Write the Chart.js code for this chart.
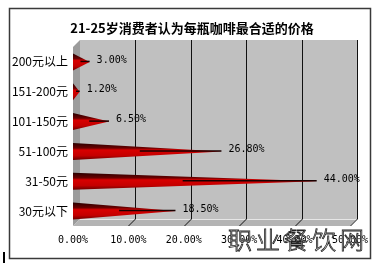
<!DOCTYPE html>
<html>
<head>
<meta charset="utf-8">
<script src="https://cdn.jsdelivr.net/npm/chart.js@4"></script>
<style>
    html, body { margin: 0; padding: 0; background: #fff; }
    #wrap { position: relative; width: 376px; height: 267px; }
</style>
</head>
<body>
<div id="wrap"><canvas id="priceChart" width="376" height="267"></canvas></div>
<script>
// chart data
const chartTitle = '21-25岁消费者认为每瓶咖啡最合适的价格';
const categories = ['200元以上', '151-200元', '101-150元', '51-100元', '31-50元', '30元以下'];
const shares = [3.00, 1.20, 6.50, 26.80, 44.00, 18.50];
const xTicks = [0, 10, 20, 30, 40, 50];
const watermark = '职业餐饮网';

const DEPTH = 7; // 3d offset of the back wall

// walls, floor, gridlines, frame and title
const backdrop = {
    id: 'backdrop',
    beforeDraw(chart) {
        const { ctx, chartArea: a, scales } = chart;
        ctx.save();
        ctx.fillStyle = '#fff';
        ctx.fillRect(0, 0, chart.width, chart.height);

        // outer frame
        ctx.strokeStyle = '#3a3a3a';
        ctx.lineWidth = 1.5;
        ctx.strokeRect(9.5, 8.5, 361, 250);

        // title, centred on the frame rather than the plot
        ctx.fillStyle = '#000';
        ctx.font = 'bold 13px "Noto Sans CJK SC"';
        ctx.textAlign = 'center';
        ctx.textBaseline = 'middle';
        ctx.fillText(chartTitle, 192, 28);

        // back wall
        ctx.fillStyle = '#c0c0c0';
        ctx.fillRect(a.left + DEPTH, a.top - DEPTH, a.right - a.left, a.bottom - a.top);

        // left wall
        ctx.fillStyle = '#9c9c9c';
        ctx.beginPath();
        ctx.moveTo(a.left, a.top);
        ctx.lineTo(a.left + DEPTH, a.top - DEPTH);
        ctx.lineTo(a.left + DEPTH, a.bottom - DEPTH);
        ctx.lineTo(a.left, a.bottom);
        ctx.closePath();
        ctx.fill();

        // floor
        ctx.fillStyle = '#b4b4b4';
        ctx.beginPath();
        ctx.moveTo(a.left, a.bottom);
        ctx.lineTo(a.left + DEPTH, a.bottom - DEPTH);
        ctx.lineTo(a.right + DEPTH, a.bottom - DEPTH);
        ctx.lineTo(a.right, a.bottom);
        ctx.closePath();
        ctx.fill();
        ctx.strokeStyle = '#e6e6e6';
        ctx.lineWidth = 1;
        ctx.beginPath();
        ctx.moveTo(a.left + DEPTH, a.bottom - DEPTH + 0.5);
        ctx.lineTo(a.right + DEPTH, a.bottom - DEPTH + 0.5);
        ctx.stroke();

        // gridlines on the back wall + floor
        ctx.strokeStyle = '#111';
        ctx.lineWidth = 1;
        xTicks.forEach(v => {
            if (v === 0) return;
            const x = Math.round(scales.x.getPixelForValue(v)) + DEPTH + 0.5;
            ctx.beginPath();
            ctx.moveTo(x, a.top - DEPTH);
            ctx.lineTo(x, a.bottom - DEPTH);
            ctx.lineTo(x - DEPTH, a.bottom);
            ctx.stroke();
        });
        ctx.restore();
    }
};

// cone shaped bars + value labels
const coneBars = {
    id: 'coneBars',
    afterDatasetsDraw(chart) {
        const { ctx } = chart;
        const meta = chart.getDatasetMeta(0);
        ctx.save();
        meta.data.forEach((bar, i) => {
            const base = bar.base;
            const tip = bar.x;
            const cy = bar.y;
            const h = bar.height;
            const len = tip - base;

            const g = ctx.createLinearGradient(0, cy - h / 2, 0, cy + h / 2);
            g.addColorStop(0, '#2a0000');
            g.addColorStop(0.3, '#6a0000');
            g.addColorStop(0.42, '#d80000');
            g.addColorStop(0.75, '#c40000');
            g.addColorStop(1, '#6a0000');
            ctx.fillStyle = g;
            ctx.beginPath();
            ctx.moveTo(base, cy - h / 2);
            ctx.lineTo(tip, cy);
            ctx.lineTo(base, cy + h / 2);
            ctx.closePath();
            ctx.fill();

            // dark core line toward the tip
            ctx.strokeStyle = '#1a0000';
            ctx.lineWidth = 1.5;
            ctx.beginPath();
            ctx.moveTo(base + len * 0.45, cy - 0.5);
            ctx.lineTo(tip, cy - 0.5);
            ctx.stroke();

            ctx.fillStyle = '#000';
            ctx.font = '10px "DejaVu Sans Mono"';
            ctx.textAlign = 'left';
            ctx.textBaseline = 'middle';
            ctx.fillText(shares[i].toFixed(2) + '%', tip + 7, cy - 2);
        });
        ctx.restore();
    },
    afterDraw(chart) {
        const { ctx } = chart;
        ctx.save();
        ctx.font = '300 24px "Noto Sans CJK SC"';
        ctx.textAlign = 'left';
        ctx.textBaseline = 'middle';
        ctx.letterSpacing = '4px';
        ctx.lineWidth = 0.8;
        ctx.fillStyle = '#fff';
        ctx.strokeStyle = '#222';
        ctx.fillText(watermark, 228, 240);
        ctx.strokeText(watermark, 228, 240);
        // stray mark at the bottom left
        ctx.fillStyle = '#000';
        ctx.fillRect(3, 252, 2, 11);
        ctx.restore();
    }
};

const ctx = document.getElementById('priceChart').getContext('2d');
const priceChart = new Chart(ctx, {
    type: 'bar',
    data: {
        labels: categories,
        datasets: [{
            data: shares,
            backgroundColor: 'rgba(0,0,0,0)',
            borderWidth: 0,
            barThickness: 17
        }]
    },
    options: {
        indexAxis: 'y',
        responsive: false,
        animation: false,
        events: [],
        layout: { padding: { left: 0, right: 25, top: 47, bottom: 11 } },
        plugins: {
            legend: { display: false },
            tooltip: { enabled: false },
            title: { display: false }
        },
        scales: {
            x: {
                min: 0,
                max: 50,
                afterBuildTicks: axis => { axis.ticks = xTicks.map(v => ({ value: v })); },
                afterFit: axis => { axis.height = 30; },
                grid: { display: false, drawTicks: false },
                border: { display: false },
                ticks: {
                    padding: 8,
                    color: '#000',
                    font: { family: '"DejaVu Sans Mono"', size: 10 },
                    callback: v => v.toFixed(2) + '%'
                }
            },
            y: {
                afterFit: axis => { axis.width = 73; },
                grid: { display: false, drawTicks: false },
                border: { display: false },
                ticks: {
                    padding: 5,
                    color: '#000',
                    font: { family: '"Noto Sans CJK SC"', size: 12 }
                }
            }
        }
    },
    plugins: [backdrop, coneBars]
});
</script>
</body>
</html>
